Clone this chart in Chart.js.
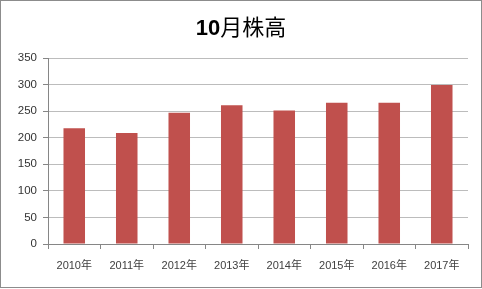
<!DOCTYPE html>
<html><head><meta charset="utf-8">
<script src="https://cdn.jsdelivr.net/npm/chart.js@4"></script>
<style>html,body{margin:0;padding:0;background:#fff}#wrap{width:482px;height:289px;position:relative}</style>
</head><body><div id="wrap"><canvas id="c" width="482" height="289"></canvas></div>
<script>
const categories = ['2010年','2011年','2012年','2013年','2014年','2015年','2016年','2017年'];
const values = [218, 209, 247, 261, 251, 266, 266, 299];
const yMin = 0, yMax = 350, yStep = 50;
const titleNum = '10';
const titleRest = '月株高';

const framePlugin = {
  id: 'frame',
  afterDraw(chart) {
    const ctx = chart.ctx;
    ctx.save();
    ctx.strokeStyle = '#8c8c8c';
    ctx.lineWidth = 1;
    ctx.strokeRect(0.5, 0.5, chart.width - 1, chart.height - 2);
    const fNum = 'bold 22px "Liberation Sans", "Noto Sans CJK JP"';
    const fRest = '22px "Noto Sans CJK JP"';
    ctx.textBaseline = 'alphabetic';
    ctx.font = fNum; const w1 = ctx.measureText(titleNum).width;
    ctx.font = fRest; const w2 = ctx.measureText(titleRest).width;
    const x0 = chart.width / 2 - (w1 + w2) / 2;
    const yb = 35;
    ctx.fillStyle = '#000';
    ctx.font = fNum; ctx.fillText(titleNum, x0, yb);
    ctx.font = fRest; ctx.fillText(titleRest, x0 + w1, yb);
    ctx.restore();
  }
};

new Chart(document.getElementById('c'), {
  type: 'bar',
  data: { labels: categories, datasets: [{ data: values, backgroundColor: '#C0504D', borderWidth: 0, barPercentage: 0.41, categoryPercentage: 1 }] },
  options: {
    responsive: false, animation: false, devicePixelRatio: 1,
    layout: { padding: { left: 0, right: 14, top: 58, bottom: 0 } },
    plugins: { legend: { display: false }, tooltip: { enabled: false }, title: { display: false } },
    scales: {
      x: {
        grid: { drawOnChartArea: false, color: '#868686', tickLength: 5, offset: true },
        border: { color: '#868686' },
        ticks: { color: '#404040', font: { family: '"Liberation Sans Narrow", "Liberation Sans", "Noto Sans CJK JP"', size: 11 }, padding: 10, maxRotation: 0 },
        afterFit(s) { s.height = 45; }
      },
      y: {
        min: yMin, max: yMax,
        ticks: { stepSize: yStep, color: '#333', font: { family: '"Liberation Sans"', size: 11.5 }, padding: 6 },
        grid: { color: '#bcbcbc', tickColor: '#868686', tickLength: 5 },
        border: { color: '#868686' },
        afterFit(s) { s.width = 48; }
      }
    }
  },
  plugins: [framePlugin]
});
</script></body></html>
